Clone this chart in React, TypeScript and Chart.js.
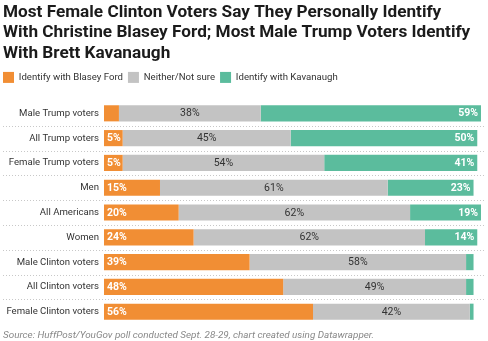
import React, { useEffect, useRef } from "react";
import { Chart, registerables } from "chart.js";

Chart.register(...registerables);

const categories = [
  "Male Trump voters",
  "All Trump voters",
  "Female Trump voters",
  "Men",
  "All Americans",
  "Women",
  "Male Clinton voters",
  "All Clinton voters",
  "Female Clinton voters",
];
const fordValues = [4, 5, 5, 15, 20, 24, 39, 48, 56];
const neitherValues = [38, 45, 54, 61, 62, 62, 58, 49, 42];
const kavanaughValues = [59, 50, 41, 23, 19, 14, 2, 2, 1];

const seriesNames = ["Identify with Blasey Ford", "Neither/Not sure", "Identify with Kavanaugh"];
const titleLines = [
  "Most Female Clinton Voters Say They Personally Identify",
  "With Christine Blasey Ford; Most Male Trump Voters Identify",
  "With Brett Kavanaugh",
];
const sourceText =
  "Source: HuffPost/YouGov poll conducted Sept. 28-29, chart created using Datawrapper.";

const ORANGE = "#f18e34";
const GRAY = "#c3c3c3";
const GREEN = "#5bbc9d";
const FONT = "Roboto, 'Noto Sans', sans-serif";
const LEGEND_PAD = 5;

const legendSpacingPlugin = {
  id: "legendSpacing",
  beforeInit(chart: any) {
    const legend = chart.legend;
    if (!legend) return;
    const origFit = legend.fit;
    legend.fit = function () {
      origFit.call(this);
      this.height += 8;
    };
  },
  afterLayout(chart: any) {
    if (chart.legend) chart.legend.left = 3 - LEGEND_PAD;
  },
};

const separatorPlugin = {
  id: "separators",
  beforeDatasetsDraw(chart: any) {
    const { ctx } = chart;
    const y = chart.scales.y;
    ctx.save();
    ctx.strokeStyle = "#c8c8c8";
    ctx.lineWidth = 1;
    ctx.setLineDash([1, 2]);
    for (let i = 0; i < categories.length - 1; i++) {
      const yy = Math.round((y.getPixelForValue(i) + y.getPixelForValue(i + 1)) / 2) + 0.5;
      ctx.beginPath();
      ctx.moveTo(3, yy);
      ctx.lineTo(484, yy);
      ctx.stroke();
    }
    ctx.restore();
  },
};

const labelPlugin = {
  id: "valueLabels",
  afterDatasetsDraw(chart: any) {
    const { ctx } = chart;
    ctx.save();
    ctx.textBaseline = "middle";
    chart.data.datasets.forEach((ds: any, di: number) => {
      const meta = chart.getDatasetMeta(di);
      meta.data.forEach((bar: any, i: number) => {
        const v = ds.data[i];
        if (v < 5) return;
        const left = Math.min(bar.x, bar.base);
        const right = Math.max(bar.x, bar.base);
        const text = v + "%";
        if (di === 0) {
          ctx.fillStyle = "#ffffff";
          ctx.font = `bold 10.5px ${FONT}`;
          ctx.textAlign = "left";
          ctx.fillText(text, left + 3, bar.y + 0.5);
        } else if (di === 1) {
          ctx.fillStyle = "#333333";
          ctx.font = `10.5px ${FONT}`;
          ctx.textAlign = "center";
          ctx.fillText(text, (left + right) / 2, bar.y + 0.5);
        } else {
          ctx.fillStyle = "#ffffff";
          ctx.font = `bold 10.5px ${FONT}`;
          ctx.textAlign = "right";
          ctx.fillText(text, right - 3, bar.y + 0.5);
        }
      });
    });
    ctx.restore();
  },
};

export default function App() {
  const ref = useRef<HTMLCanvasElement | null>(null);
  useEffect(() => {
    if (!ref.current) return;
    const chart = new Chart(ref.current, {
      type: "bar",
      data: {
        labels: categories,
        datasets: [
          { label: seriesNames[0], data: fordValues, backgroundColor: ORANGE },
          { label: seriesNames[1], data: neitherValues, backgroundColor: GRAY },
          { label: seriesNames[2], data: kavanaughValues, backgroundColor: GREEN },
        ],
      },
      options: {
        indexAxis: "y",
        responsive: false,
        animation: false,
        layout: { padding: { left: 3, right: 7, top: 0, bottom: 0 } },
        datasets: {
          bar: { categoryPercentage: 1, barPercentage: 0.65, borderWidth: 0 },
        },
        scales: {
          x: { stacked: true, min: 0, max: 101, display: false },
          y: {
            stacked: true,
            grid: { display: false, drawTicks: false, tickLength: 0 },
            border: { display: false },
            ticks: {
              color: "#333333",
              font: { family: FONT, size: 9.6 },
              padding: 5,
            },
            afterFit(scale: any) {
              scale.width = 101;
            },
          },
        },
        plugins: {
          tooltip: { enabled: false },
          title: {
            display: true,
            text: titleLines,
            align: "start",
            color: "#1b1b1b",
            font: { family: FONT, size: 17.2, weight: "bold", lineHeight: 1.2 },
            padding: { top: 2, bottom: 3 },
          },
          legend: {
            display: true,
            position: "top",
            align: "start",
            labels: {
              boxWidth: 11,
              boxHeight: 11,
              color: "#333333",
              font: { family: FONT, size: 9.6 },
              padding: LEGEND_PAD,
            },
          },
          subtitle: {
            display: true,
            position: "bottom",
            align: "start",
            text: sourceText,
            color: "#888888",
            font: { family: FONT, size: 9.9, style: "italic" },
            padding: { top: 5, bottom: 0 },
          },
        },
      },
      plugins: [legendSpacingPlugin, separatorPlugin, labelPlugin],
    });
    return () => chart.destroy();
  }, []);
  return (
    <div style={{ position: "fixed", left: 0, top: 0, width: 488, height: 341, background: "#fff" }}>
      <canvas ref={ref} width={488} height={341} />
    </div>
  );
}
